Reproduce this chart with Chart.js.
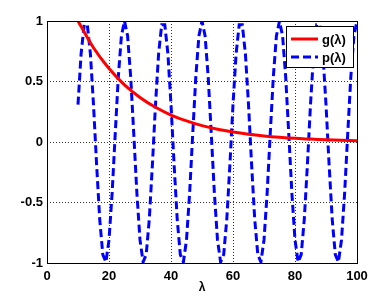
<!DOCTYPE html>
<html>
<head>
<meta charset="utf-8">
<script src="https://cdn.jsdelivr.net/npm/chart.js@4/dist/chart.umd.min.js"></script>
<style>
  html, body { margin: 0; padding: 0; background: #fff; }
  #wrap { width: 374px; height: 297px; }
</style>
</head>
<body>
<div id="wrap"><canvas id="c" width="374" height="297"></canvas></div>
<script>
// g(lambda): red solid curve
const gLambda = [10, 15, 20, 25, 30, 35, 40, 45, 50, 55, 60, 65, 70, 75, 80, 85, 90, 95, 100];
const gValues = [1, 0.779, 0.607, 0.472, 0.368, 0.287, 0.223, 0.174, 0.135, 0.105,
                 0.082, 0.064, 0.050, 0.039, 0.030, 0.024, 0.018, 0.014, 0.011];

// p(lambda): blue dashed curve
const pLambda = [10, 11, 12, 13, 14, 15, 16, 17, 18, 19, 20, 21, 22, 23, 24,
                 25, 26, 27, 28, 29, 30, 31, 32, 33, 34, 35, 36, 37, 38, 39, 40, 41, 42, 43, 44, 45, 46, 47, 48, 49,
                 50, 51, 52, 53, 54, 55, 56, 57, 58, 59, 60, 61, 62, 63, 64, 65, 66, 67, 68, 69, 70, 71, 72, 73, 74,
                 75, 76, 77, 78, 79, 80, 81, 82, 83, 84, 85, 86, 87, 88, 89, 90, 91, 92, 93, 94, 95, 96, 97, 98, 99,
                 100];
const pValues = [0.309, 0.729, 0.969, 0.969, 0.729, 0.309, -0.187, -0.637, -0.930, -0.992, -0.809, -0.426, 0.063, 0.536, 0.876,
                 1, 0.876, 0.536, 0.063, -0.426, -0.809, -0.992, -0.930, -0.637, -0.187, 0.309, 0.729, 0.969, 0.969, 0.729, 0.309, -0.187, -0.637, -0.930, -0.992, -0.809, -0.426, 0.063, 0.536, 0.876,
                 1, 0.876, 0.536, 0.063, -0.426, -0.809, -0.992, -0.930, -0.637, -0.187, 0.309, 0.729, 0.969, 0.969, 0.729, 0.309, -0.187, -0.637, -0.930, -0.992, -0.809, -0.426, 0.063, 0.536, 0.876,
                 1, 0.876, 0.536, 0.063, -0.426, -0.809, -0.992, -0.930, -0.637, -0.187, 0.309, 0.729, 0.969, 0.969, 0.729, 0.309, -0.187, -0.637, -0.930, -0.992, -0.809, -0.426, 0.063, 0.536, 0.876,
                 1];

const xTicks = [0, 20, 40, 60, 80, 100];
const yTicks = [-1, -0.5, 0, 0.5, 1];

const FONT = "'Liberation Sans', Arial, Helvetica, sans-serif";

// box around the axes + legend in the upper right corner
const boxAndLegend = {
    id: "boxAndLegend",
    afterDraw(chart) {
        const ctx = chart.ctx;
        const a = chart.chartArea;
        ctx.save();
        ctx.strokeStyle = "#000";
        ctx.lineWidth = 1;
        ctx.setLineDash([]);
        ctx.strokeRect(Math.round(a.left) + 0.5, Math.round(a.top) + 0.5,
                       Math.round(a.right - a.left), Math.round(a.bottom - a.top));

        // legend
        const lx = Math.round(a.right) - 71, ly = Math.round(a.top) + 5;
        const lw = 67, lh = 41;
        ctx.fillStyle = "#fff";
        ctx.fillRect(lx, ly, lw, lh);
        ctx.strokeRect(lx + 0.5, ly + 0.5, lw, lh);
        ctx.font = "bold 13px " + FONT;
        ctx.textBaseline = "middle";
        ctx.textAlign = "left";
        chart.data.datasets.forEach(function (ds, i) {
            const y = ly + 13 + i * 18;
            ctx.strokeStyle = ds.borderColor;
            ctx.lineWidth = 3;
            ctx.setLineDash(ds.borderDash || []);
            ctx.beginPath();
            ctx.moveTo(lx + 5, y);
            ctx.lineTo(lx + 32, y);
            ctx.stroke();
            ctx.setLineDash([]);
            ctx.fillStyle = "#000";
            ctx.fillText(ds.label, lx + 36, y + 1);
        });
        ctx.restore();
    }
};

new Chart(document.getElementById("c").getContext("2d"), {
    type: "scatter",
    data: {
        datasets: [
            {
                label: "g(λ)",
                data: gLambda.map((x, i) => ({ x: x, y: gValues[i] })),
                showLine: true,
                borderColor: "#ff0000",
                borderWidth: 3,
                pointRadius: 0,
                tension: 0.3,
            },
            {
                label: "p(λ)",
                data: pLambda.map((x, i) => ({ x: x, y: pValues[i] })),
                showLine: true,
                borderColor: "#0000ff",
                borderWidth: 3,
                borderDash: [8, 4],
                pointRadius: 0,
            },
        ],
    },
    options: {
        responsive: false,
        animation: false,
        layout: { padding: { top: 21, right: 17, left: 0, bottom: 0 } },
        plugins: { legend: { display: false }, tooltip: { enabled: false } },
        scales: {
            x: {
                type: "linear",
                min: 0,
                max: 100,
                afterBuildTicks: (s) => { s.ticks = xTicks.map(v => ({ value: v })); },
                afterFit: (s) => { s.height = 34; },
                grid: { color: "#333", drawTicks: false, lineWidth: 1 },
                border: { display: false, dash: [1, 2] },
                ticks: { color: "#000", padding: 6, font: { family: FONT, size: 13, weight: "bold" },
                         callback: (v) => String(v) },
                title: { display: true, text: "λ", color: "#000", padding: { top: 0, bottom: 2 },
                         font: { family: FONT, size: 12, weight: "bold" } },
            },
            y: {
                min: -1,
                max: 1,
                afterBuildTicks: (s) => { s.ticks = yTicks.map(v => ({ value: v })); },
                afterFit: (s) => { s.width = 47; },
                grid: { color: "#333", drawTicks: false, lineWidth: 1 },
                border: { display: false, dash: [1, 2] },
                ticks: { color: "#000", padding: 4, font: { family: FONT, size: 13, weight: "bold" },
                         callback: (v) => String(v) },
            },
        },
    },
    plugins: [boxAndLegend],
});
</script>
</body>
</html>
